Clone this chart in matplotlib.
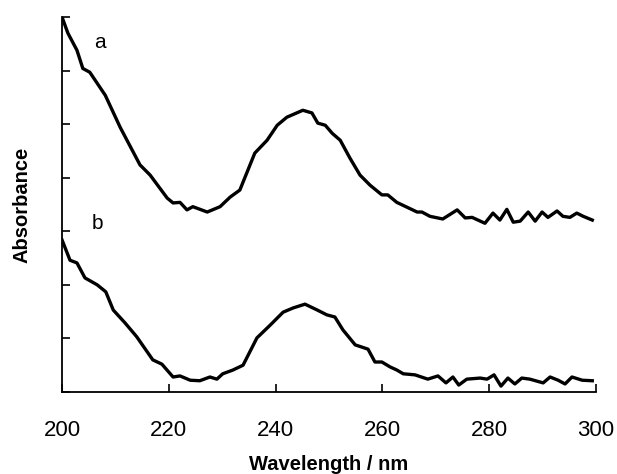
import numpy as np
import matplotlib
matplotlib.use("Agg")
import matplotlib.pyplot as plt

plt.rcParams['font.family'] = ['Liberation Sans', 'DejaVu Sans']

# spectrum a (upper trace)
wl_a = [200.0, 201.1, 202.8, 203.9, 205.2, 208.1, 210.9, 214.6, 216.5, 219.7,
        220.8, 222.1, 223.4, 224.5, 227.2, 229.6, 231.5, 233.3, 236.1, 238.4,
        240.3, 242.1, 245.1, 246.8, 247.9, 249.3, 250.6, 252.1, 253.9, 255.8,
        257.7, 259.9, 261.0, 262.7, 264.6, 266.5, 267.4, 268.9, 271.3, 274.0,
        275.5, 276.8, 279.2, 280.7, 282.0, 283.3, 284.5, 285.8, 287.3, 288.6,
        289.9, 291.0, 292.7, 293.8, 295.1, 296.4, 297.6, 299.3]
abs_a = [7.00, 6.70, 6.38, 6.04, 5.97, 5.54, 4.94, 4.24, 4.05, 3.62,
         3.53, 3.54, 3.40, 3.46, 3.36, 3.46, 3.64, 3.77, 4.46, 4.70,
         4.98, 5.13, 5.26, 5.21, 5.02, 4.98, 4.83, 4.70, 4.37, 4.05,
         3.86, 3.68, 3.68, 3.54, 3.45, 3.36, 3.36, 3.28, 3.23, 3.40,
         3.25, 3.26, 3.15, 3.34, 3.21, 3.41, 3.17, 3.19, 3.36, 3.19,
         3.36, 3.26, 3.38, 3.28, 3.26, 3.34, 3.28, 3.21]

# spectrum b (lower trace)
wl_b = [200.0, 201.5, 202.8, 204.3, 206.6, 208.2, 209.6, 211.8, 214.0, 217.0,
        218.7, 220.8, 222.1, 224.0, 225.8, 227.7, 229.0, 230.1, 232.0, 233.9,
        236.5, 239.0, 241.4, 243.3, 245.5, 247.8, 249.6, 251.1, 252.6, 254.9,
        257.3, 258.6, 259.9, 261.4, 262.7, 263.9, 266.1, 268.5, 270.4, 271.9,
        273.2, 274.3, 275.8, 278.3, 279.6, 280.9, 282.2, 283.5, 284.8, 286.1,
        287.6, 290.1, 291.4, 292.9, 294.2, 295.5, 297.4, 299.3]
abs_b = [2.84, 2.46, 2.41, 2.13, 2.00, 1.87, 1.53, 1.29, 1.03, 0.60,
         0.52, 0.28, 0.30, 0.22, 0.21, 0.28, 0.24, 0.34, 0.41, 0.50,
         1.01, 1.25, 1.49, 1.57, 1.64, 1.53, 1.44, 1.40, 1.16, 0.88,
         0.80, 0.56, 0.56, 0.47, 0.41, 0.34, 0.32, 0.24, 0.30, 0.17,
         0.28, 0.13, 0.24, 0.26, 0.24, 0.32, 0.11, 0.26, 0.15, 0.26,
         0.24, 0.17, 0.28, 0.22, 0.15, 0.28, 0.22, 0.21]

xticks = [200, 220, 240, 260, 280, 300]

fig = plt.figure(figsize=(6.17, 4.74), dpi=100)
ax = fig.add_axes([0.1005, 0.173, 0.8655, 0.791])

ax.plot(wl_a, abs_a, color='black', lw=2.4, solid_joinstyle='round')
ax.plot(wl_b, abs_b, color='black', lw=2.4, solid_joinstyle='round')

ax.text(207.1, 6.53, 'a', fontsize=15, ha='center', va='center')
ax.text(206.6, 3.15, 'b', fontsize=15, ha='center', va='center')

ax.set_xlim(200, 300)
ax.set_ylim(0, 7)
ax.set_xticks(xticks)
ax.set_yticks(np.arange(0, 8, 1))
ax.set_yticklabels([])
ax.tick_params(direction='in', length=6, width=1.2)
ax.tick_params(axis='x', labelsize=16, pad=20)
ax.tick_params(axis='y', pad=2)

for s in ['top', 'right']:
    ax.spines[s].set_visible(False)
for s in ['left', 'bottom']:
    ax.spines[s].set_linewidth(1.3)

ax.set_xlabel('Wavelength / nm', fontsize=14.5, fontweight='bold', labelpad=10)
ax.set_ylabel('Absorbance', fontsize=14.5, fontweight='bold')
ax.yaxis.set_label_coords(-0.058, 0.5)

fig.savefig('out.png', dpi=100)
